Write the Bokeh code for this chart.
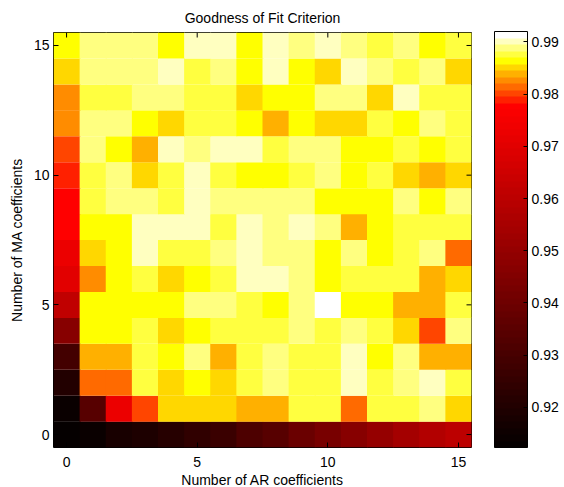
from bokeh.plotting import figure
from bokeh.models import (LinearColorMapper, ColorBar, FixedTicker,
                          Range1d, ColumnDataSource, PrintfTickFormatter)
from bokeh.embed import file_html
from bokeh.resources import INLINE

# ---- data (rows = number of MA coefficients 0..15, cols = number of AR coefficients 0..15)
ar_coeffs = list(range(16))
ma_coeffs = list(range(16))
fit_rows = [
    [0.9132, 0.9143, 0.9174, 0.9189, 0.9215, 0.9241, 0.9272, 0.9313, 0.9345, 0.9391, 0.9433, 0.9469, 0.9505, 0.9536, 0.9572, 0.9598],
    [0.9137, 0.9345, 0.9725, 0.9802, 0.9851, 0.9851, 0.9851, 0.9839, 0.9839, 0.9876, 0.9876, 0.9814, 0.9876, 0.9876, 0.9889, 0.9851],
    [0.9200, 0.9814, 0.9814, 0.9876, 0.9851, 0.9864, 0.9851, 0.9876, 0.9889, 0.9876, 0.9876, 0.9901, 0.9876, 0.9889, 0.9901, 0.9876],
    [0.9293, 0.9839, 0.9839, 0.9876, 0.9864, 0.9889, 0.9839, 0.9876, 0.9889, 0.9876, 0.9876, 0.9901, 0.9864, 0.9889, 0.9839, 0.9839],
    [0.9469, 0.9864, 0.9864, 0.9876, 0.9851, 0.9864, 0.9876, 0.9876, 0.9876, 0.9889, 0.9876, 0.9889, 0.9876, 0.9851, 0.9802, 0.9889],
    [0.9613, 0.9864, 0.9864, 0.9864, 0.9864, 0.9889, 0.9889, 0.9876, 0.9864, 0.9889, 0.9914, 0.9864, 0.9864, 0.9839, 0.9839, 0.9876],
    [0.9696, 0.9826, 0.9864, 0.9876, 0.9851, 0.9864, 0.9876, 0.9901, 0.9901, 0.9889, 0.9864, 0.9876, 0.9876, 0.9876, 0.9839, 0.9851],
    [0.9733, 0.9851, 0.9864, 0.9901, 0.9876, 0.9876, 0.9889, 0.9901, 0.9889, 0.9889, 0.9864, 0.9889, 0.9864, 0.9876, 0.9889, 0.9814],
    [0.9777, 0.9864, 0.9864, 0.9901, 0.9901, 0.9901, 0.9876, 0.9901, 0.9889, 0.9901, 0.9889, 0.9839, 0.9864, 0.9876, 0.9876, 0.9876],
    [0.9777, 0.9876, 0.9889, 0.9889, 0.9876, 0.9901, 0.9889, 0.9889, 0.9889, 0.9889, 0.9864, 0.9864, 0.9864, 0.9889, 0.9864, 0.9889],
    [0.9789, 0.9876, 0.9889, 0.9851, 0.9876, 0.9901, 0.9876, 0.9864, 0.9864, 0.9876, 0.9889, 0.9864, 0.9876, 0.9851, 0.9839, 0.9851],
    [0.9802, 0.9889, 0.9864, 0.9839, 0.9901, 0.9889, 0.9901, 0.9901, 0.9876, 0.9889, 0.9889, 0.9864, 0.9864, 0.9876, 0.9864, 0.9876],
    [0.9826, 0.9889, 0.9889, 0.9864, 0.9851, 0.9876, 0.9876, 0.9864, 0.9839, 0.9864, 0.9851, 0.9851, 0.9876, 0.9864, 0.9889, 0.9876],
    [0.9826, 0.9876, 0.9876, 0.9889, 0.9889, 0.9876, 0.9876, 0.9851, 0.9864, 0.9864, 0.9889, 0.9889, 0.9851, 0.9901, 0.9876, 0.9876],
    [0.9851, 0.9889, 0.9889, 0.9889, 0.9901, 0.9876, 0.9889, 0.9864, 0.9901, 0.9864, 0.9851, 0.9901, 0.9889, 0.9876, 0.9889, 0.9851],
    [0.9864, 0.9889, 0.9889, 0.9889, 0.9864, 0.9901, 0.9901, 0.9864, 0.9901, 0.9889, 0.9901, 0.9889, 0.9876, 0.9889, 0.9864, 0.9876],
]
axis_ticks = [0, 5, 10, 15]
cbar_ticks = [0.92, 0.93, 0.94, 0.95, 0.96, 0.97, 0.98, 0.99]
c_low, c_high = 0.9123, 0.9920

# ---- colormap (hot-like, 64 levels)
red_part = ["#%02x0000" % round(255 * (i + 1) / 53) for i in range(53)]
warm_part = ["#ff2000", "#ff4500", "#ff6a00", "#ff8c00", "#ffb000", "#ffd700",
             "#ffff00", "#ffff40", "#ffff80", "#ffffc0", "#ffffff"]
palette = red_part + warm_part

FONT = "Liberation Sans"
FRAME_W, FRAME_H = 418, 415
X_LO, X_HI, Y_LO, Y_HI = -0.5, 15.5, -0.5, 15.5

xs, ys, vals = [], [], []
for j, ma in enumerate(ma_coeffs):
    for i, ar in enumerate(ar_coeffs):
        xs.append(ar)
        ys.append(ma)
        vals.append(fit_rows[j][i])
src = ColumnDataSource(dict(x=xs, y=ys, v=vals))

mapper = LinearColorMapper(palette=palette, low=c_low, high=c_high)

p = figure(frame_width=FRAME_W, frame_height=FRAME_H,
           x_range=Range1d(X_LO, X_HI), y_range=Range1d(Y_LO, Y_HI),
           output_backend="svg", toolbar_location=None,
           title="Goodness of Fit Criterion",
           min_border_left=53, min_border_right=10, min_border_top=32, min_border_bottom=40)

p.rect(x="x", y="y", width=1, height=1, source=src,
       fill_color={"field": "v", "transform": mapper}, line_color=None, dilate=True)

p.grid.visible = False
p.outline_line_color = "black"
p.outline_line_width = 1
p.background_fill_color = "white"
p.border_fill_color = "white"

p.title.align = "center"
p.title.text_font = FONT
p.title.text_font_size = "14px"
p.title.text_font_style = "normal"
p.title.text_color = "black"
p.title.standoff = 13

for ax in (p.xaxis[0], p.yaxis[0]):
    ax.ticker = FixedTicker(ticks=axis_ticks)
    ax.major_tick_in = 5
    ax.major_tick_out = 0
    ax.minor_tick_line_color = None
    ax.axis_line_color = None
    ax.major_tick_line_color = "black"
    ax.major_label_text_font = FONT
    ax.major_label_text_font_size = "14px"
    ax.major_label_text_color = "black"
    ax.axis_label_text_font = FONT
    ax.axis_label_text_font_size = "14px"
    ax.axis_label_text_font_style = "normal"
    ax.axis_label_text_color = "black"

p.xaxis.axis_label = "Number of AR coefficients"
p.yaxis.axis_label = "Number of MA coefficients"
p.xaxis.major_label_standoff = 9
p.xaxis.axis_label_standoff = 2
p.yaxis.major_label_standoff = 4
p.yaxis.axis_label_standoff = 6

# mirrored inward ticks on the top and right edges of the box
tl_y = 5 * (Y_HI - Y_LO) / FRAME_H
tl_x = 5 * (X_HI - X_LO) / FRAME_W
p.segment(x0=axis_ticks, x1=axis_ticks, y0=[Y_HI] * 4, y1=[Y_HI - tl_y] * 4,
          line_color="black", line_width=1)
p.segment(x0=[X_HI] * 4, x1=[X_HI - tl_x] * 4, y0=axis_ticks, y1=axis_ticks,
          line_color="black", line_width=1)

cb = ColorBar(color_mapper=mapper, ticker=FixedTicker(ticks=cbar_ticks),
              formatter=PrintfTickFormatter(format="%.2f"),
              width=33, height=416, padding=0, margin=0,
              major_tick_in=4, major_tick_out=0, major_tick_line_color="black",
              minor_tick_line_color=None,
              bar_line_color="black", border_line_color=None,
              background_fill_color=None,
              label_standoff=4,
              major_label_text_font=FONT, major_label_text_font_size="14px",
              major_label_text_color="black", location=(23, 0))
p.add_layout(cb, "right")

open("out.html", "w").write(file_html(p, INLINE))
